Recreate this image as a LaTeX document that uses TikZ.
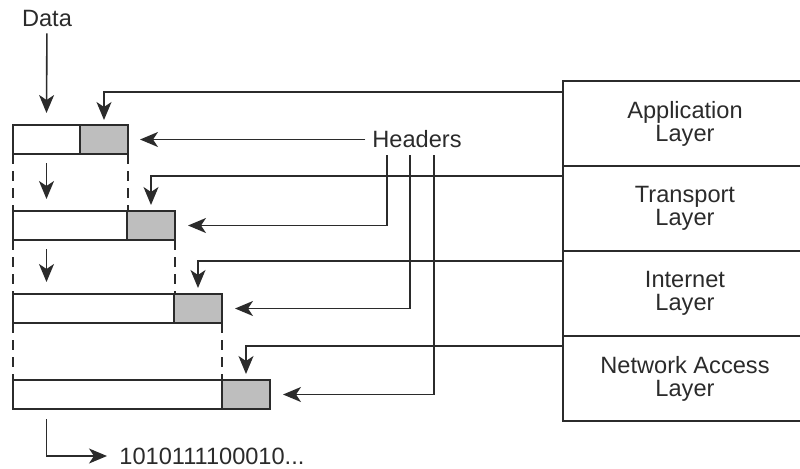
\documentclass[tikz,border=0pt]{standalone}
\usepackage{fontspec}
\setmainfont{Liberation Sans}
\usepackage{xcolor}
\usetikzlibrary{arrows.meta,positioning}
\definecolor{hdrgray}{HTML}{BEBEBE}
\definecolor{ink}{HTML}{2B2B2B}

\begin{document}
\begin{tikzpicture}[
    x=0.5pt, y=-0.5pt,
    every node/.style={text=ink, font=\fontsize{11.8}{11.5}\selectfont},
    payload/.style={draw=ink, line width=1pt, fill=white, minimum height=14.5pt, inner sep=0pt, outer sep=0pt, anchor=north west},
    header/.style={payload, fill=hdrgray, minimum width=24pt},
    layer/.style={draw=ink, line width=1pt, minimum width=122pt, minimum height=42.5pt, align=center, inner sep=0pt, outer sep=0pt},
    arr/.style={-{Stealth[length=9pt,width=7.5pt,inset=2.5pt]}, draw=ink, line width=0.8pt},
    gap/.style={draw=ink, line width=1pt, dash pattern=on 5pt off 3.5pt}
]
\useasboundingbox (0,0) rectangle (800,468);
\clip (0,0) rectangle (800,468);

% layer stack
\node[layer, anchor=north west] (app) at (563,81) {Application\\Layer};
\node[layer, below=0pt of app] (trans) {Transport\\Layer};
\node[layer, below=0pt of trans] (inet) {Internet\\Layer};
\node[layer, below=0pt of inet] (netacc) {Network Access\\Layer};

% encapsulated units
\node[payload, minimum width=33.5pt] (pay1) at (13,125) {};
\node[header, right=0pt of pay1] (hdr1) {};
\node[payload, minimum width=57pt] (pay2) at (13,211) {};
\node[header, right=0pt of pay2] (hdr2) {};
\node[payload, minimum width=80.5pt] (pay3) at (13,294) {};
\node[header, right=0pt of pay3] (hdr3) {};
\node[payload, minimum width=104.5pt] (pay4) at (13,380) {};
\node[header, right=0pt of pay4] (hdr4) {};

\node (data) at (47,18) {Data};
\node (hdrs) at (417,139.5) {Headers};
\node[anchor=west, inner sep=1pt] (bits) at (117,456) {1010111100010...};

% dashed guides
\draw[gap] (pay1.south west) -- (pay2.north west);
\draw[gap] (pay2.south west) -- (pay3.north west);
\draw[gap] (pay3.south west) -- (pay4.north west);
\draw[gap] (hdr1.south east) -- (hdr1.south east |- hdr2.north);
\draw[gap] (hdr2.south east) -- (hdr2.south east |- hdr3.north);
\draw[gap] (hdr3.south east) -- (hdr3.south east |- hdr4.north);

% data flow
\draw[arr] (data) -- ([yshift=6pt]pay1.north);
\draw[arr] ([yshift=-4.5pt]pay1.south) -- ([yshift=6pt]pay1.south |- pay2.north);
\draw[arr] ([yshift=-4.5pt]pay1.south |- pay2.south) -- ([yshift=6pt]pay1.south |- pay3.north);
\draw[arr] ([yshift=-5pt]pay1.south |- pay4.south) |- ([xshift=-5pt]bits.west);

% headers from each layer
\draw[arr] ([yshift=-5.5pt]app.north west) -| ([yshift=2.5pt]hdr1.north);
\draw[arr] ([yshift=-5pt]trans.north west) -| ([yshift=3pt]hdr2.north);
\draw[arr] ([yshift=-5pt]inet.north west) -| ([yshift=3pt]hdr3.north);
\draw[arr] ([yshift=-5pt]netacc.north west) -| ([yshift=3pt]hdr4.north);

% header labels
\draw[arr] (hdrs.west) -- ([xshift=6pt]hdr1.east);
\draw[arr] ([xshift=-15pt]hdrs.south) |- ([xshift=6.5pt]hdr2.east);
\draw[arr] ([xshift=-3.5pt]hdrs.south) |- ([xshift=6.5pt]hdr3.east);
\draw[arr] ([xshift=8.5pt]hdrs.south) |- ([xshift=6.5pt]hdr4.east);
\end{tikzpicture}
\end{document}
